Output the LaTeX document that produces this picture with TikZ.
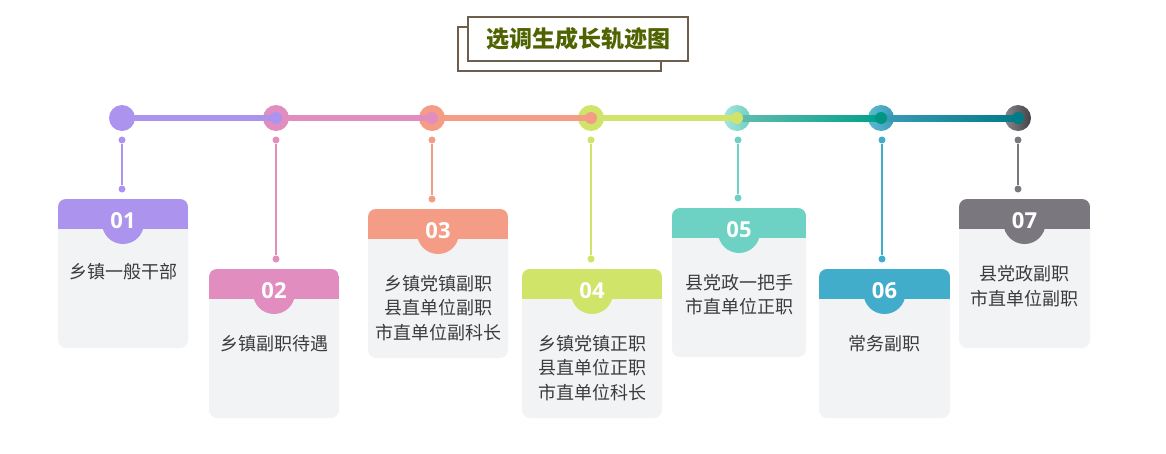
\documentclass[tikz,border=0pt]{standalone}
\usepackage{fontspec}
\setmainfont{Noto Sans CJK SC}
\newfontfamily\numfont{Open Sans}
\definecolor{cA}{HTML}{AC94EE}
\definecolor{cB}{HTML}{E18DBF}
\definecolor{cC}{HTML}{F59C87}
\definecolor{cD}{HTML}{D0E46A}
\definecolor{cE}{HTML}{6DD1C3}
\definecolor{cF}{HTML}{41ADCB}
\definecolor{cG}{HTML}{7A787E}
\definecolor{cardbg}{HTML}{F2F3F5}
\definecolor{txt}{HTML}{3C3C3C}
\definecolor{titlec}{HTML}{4F6300}
\definecolor{framec}{HTML}{6E5E4E}
\definecolor{darkteal}{HTML}{007B88}
\tikzset{
  bigdot/.style={circle, minimum size=26pt, inner sep=0pt},
  innerdot/.style={circle, minimum size=12pt, inner sep=0pt},
  pindot/.style={circle, minimum size=7pt, inner sep=0pt},
  cardbox/.style={rounded corners=8pt, fill=cardbg, inner sep=0pt},
  numtext/.style={font=\numfont\bfseries\fontsize{22}{24}\selectfont, text=white, inner sep=0pt},
  cardtext/.style={font=\fontsize{18}{24.5}\selectfont, text=txt, align=center, inner sep=0pt},
}
\begin{document}
\begin{tikzpicture}[x=1pt,y=-1pt]
\useasboundingbox (0,0) rectangle (1166,453);
% title
\draw[framec, line width=1.2pt, fill=white] (458,27) rectangle (661,71);
\node[draw=framec, line width=1.2pt, fill=white, minimum width=220pt, minimum height=44pt, inner sep=0pt,
  font=\bfseries\fontsize{23}{25}\selectfont, text=titlec] (title) at (578,39) {选调生成长轨迹图};
% timeline circles
\node[bigdot, fill=cA] (t1) at (122,118) {};
\node[bigdot, fill=cB] (t2) at (276,118) {};
\node[bigdot, fill=cC] (t3) at (432,118) {};
\node[bigdot, fill=cD] (t4) at (591,118) {};
\node[bigdot, left color=cE!60!white, right color=cE] (t5) at (737,118) {};
\node[bigdot, left color=cF!85!white, right color=cF!90!black] (t6) at (881,118) {};
\node[bigdot, left color=cG!90!white, right color=cG!55!black] (t7) at (1018,118) {};
% segments
\draw[cA, line width=6pt] (t1.center) -- (t2.center);
\draw[cB, line width=6pt] (t2.center) -- (t3.center);
\draw[cC, line width=6pt] (t3.center) -- (t4.center);
\draw[cD, line width=6pt] (t4.center) -- (t5.center);
\shade[left color=cE!90!black, right color={rgb,255:red,0;green,160;blue,138}] ([yshift=-3pt]t5.center) rectangle ([yshift=3pt]t6.center);
\shade[left color=cF!90!black, right color=darkteal] ([yshift=-3pt]t6.center) rectangle ([yshift=3pt]t7.center);
% inner dots
\node[innerdot, fill=cA] (i2) at (t2) {};
\node[innerdot, fill=cB] (i3) at (t3) {};
\node[innerdot, fill=cC] (i4) at (t4) {};
\node[innerdot, fill=cD] (i5) at (t5) {};
\node[innerdot, fill={rgb,255:red,0;green,150;blue,130}] (i6) at (t6) {};
\node[innerdot, fill=darkteal] (i7) at (t7) {};
% cards
\foreach \i/\xa/\xb/\yt/\yb/\col/\ty/\cx/\txt in {
  1/58/188/199/348/cA/272/122/{乡镇一般干部},
  2/209/339/269/418/cB/344/276/{乡镇副职待遇},
  3/368/508/209/358/cC/308/432/{乡镇党镇副职\\县直单位副职\\市直单位副科长},
  4/522/662/269/418/cD/368/591/{乡镇党镇正职\\县直单位正职\\市直单位科长},
  5/672/806/208/357/cE/294.5/738/{县党政一把手\\市直单位正职},
  6/819/950/269/418/cF/344/882/{常务副职},
  7/959/1090/199/348/cG/286/1018/{县党政副职\\市直单位副职}}{
  \pgfmathsetmacro\mx{(\xa+\xb)/2}
  \node[cardbox, minimum width={\xb-\xa}, minimum height={\yb-\yt}] (card\i) at (\mx,{(\yt+\yb)/2}) {};
  \begin{scope}
    \clip[rounded corners=8pt] (\xa,\yt) rectangle (\xb,\yb);
    \fill[\col] (\xa,\yt) rectangle (\xb,\yt+30);
    \fill[\col] (\mx,\yt+24) circle (21);
  \end{scope}
  \node[numtext] (num\i) at (\mx,\yt+22) {0\i};
  \node[cardtext] (text\i) at (\mx,\ty) {\txt};
  \node[pindot, fill=\col] (pa\i) at (\cx,140) {};
  \node[pindot, fill=\col] (pb\i) at (\cx,\yt-10) {};
  \draw[\col, line width=1.8pt] (pa\i) -- (pb\i);
}
\end{tikzpicture}
\end{document}
